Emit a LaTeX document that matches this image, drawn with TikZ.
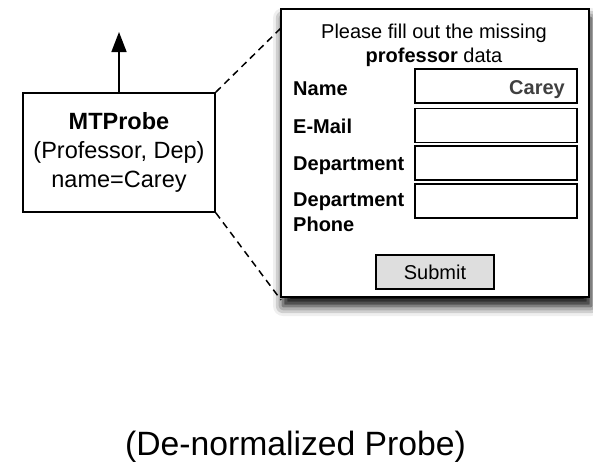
\documentclass[tikz,border=0pt]{standalone}
\usepackage{fontspec}
\setmainfont{Liberation Sans}
\usetikzlibrary{arrows.meta,shadows.blur}

\tikzset{
  probebox/.style={draw, line width=1.6pt, minimum width=192pt, minimum height=119pt,
    align=center, inner sep=0pt, font=\fontsize{23.5}{29}\selectfont},
  formpanel/.style={draw, line width=1.7pt, fill=white, minimum width=308pt, minimum height=288pt,
    inner sep=0pt,
    blur shadow={shadow xshift=2pt, shadow yshift=-9pt, shadow blur radius=10pt, shadow opacity=100}},
  fieldbox/.style={draw, line width=1.6pt, minimum width=162pt, minimum height=34pt, inner sep=0pt},
  btn/.style={draw, line width=1.6pt, fill=black!13, minimum width=118pt, minimum height=34pt,
    inner sep=0pt, font=\fontsize{20}{24}\selectfont},
  formtext/.style={font=\fontsize{20}{25}\selectfont, inner sep=0pt},
  flabel/.style={formtext, anchor=base west, font=\fontsize{20}{25}\selectfont\bfseries},
  zoomline/.style={dash pattern=on 7pt off 5pt, line width=1.5pt},
}

\begin{document}
\begin{tikzpicture}[x=1pt, y=-1pt]
  \useasboundingbox (0,0) rectangle (593,466);

  % the probe and its outgoing edge
  \node[probebox] (probe) at (119,152.5) {\textbf{MTProbe}\\(Professor, Dep)\\name=Carey};
  \coordinate (up) at (119,32);
  \draw[line width=1.6pt, -{Triangle[width=15pt,length=20pt]}] (probe.north) -- (up);

  % zoom lines towards the form
  \coordinate (zt) at (283,26);
  \coordinate (zb) at (281,300);
  \draw[zoomline] (probe.north east) -- (zt);
  \draw[zoomline] (probe.south east) -- (zb);

  % the form panel
  \node[formpanel] (form) at (435,153) {};

  \node[formtext, anchor=base] (t1) at (434,38) {Please fill out the missing};
  \node[formtext, anchor=base] (t2) at (434,62) {\textbf{professor} data};

  \node[flabel] (lname) at (293,95) {Name};
  \node[flabel] (lmail) at (293,133) {E-Mail};
  \node[flabel] (ldep) at (293,170) {Department};
  \node[flabel, anchor=north west, align=left] (lphone) at (293,192.7) {Department\\Phone};

  \node[fieldbox] (fname) at (496,86) {};
  \node[fieldbox] (fmail) at (496,125.5) {};
  \node[fieldbox] (fdep) at (496,163) {};
  \node[fieldbox] (fphone) at (496,201) {};

  \node[formtext, anchor=base east, text=black!75, font=\fontsize{20}{25}\selectfont\bfseries]
    (carey) at (565,94) {Carey};

  \node[btn] (submit) at (435,272) {Submit};

  % caption
  \node[anchor=base, inner sep=0pt, font=\fontsize{33.7}{40}\selectfont] (cap) at (295.5,455)
    {(De-normalized Probe)};
\end{tikzpicture}
\end{document}
